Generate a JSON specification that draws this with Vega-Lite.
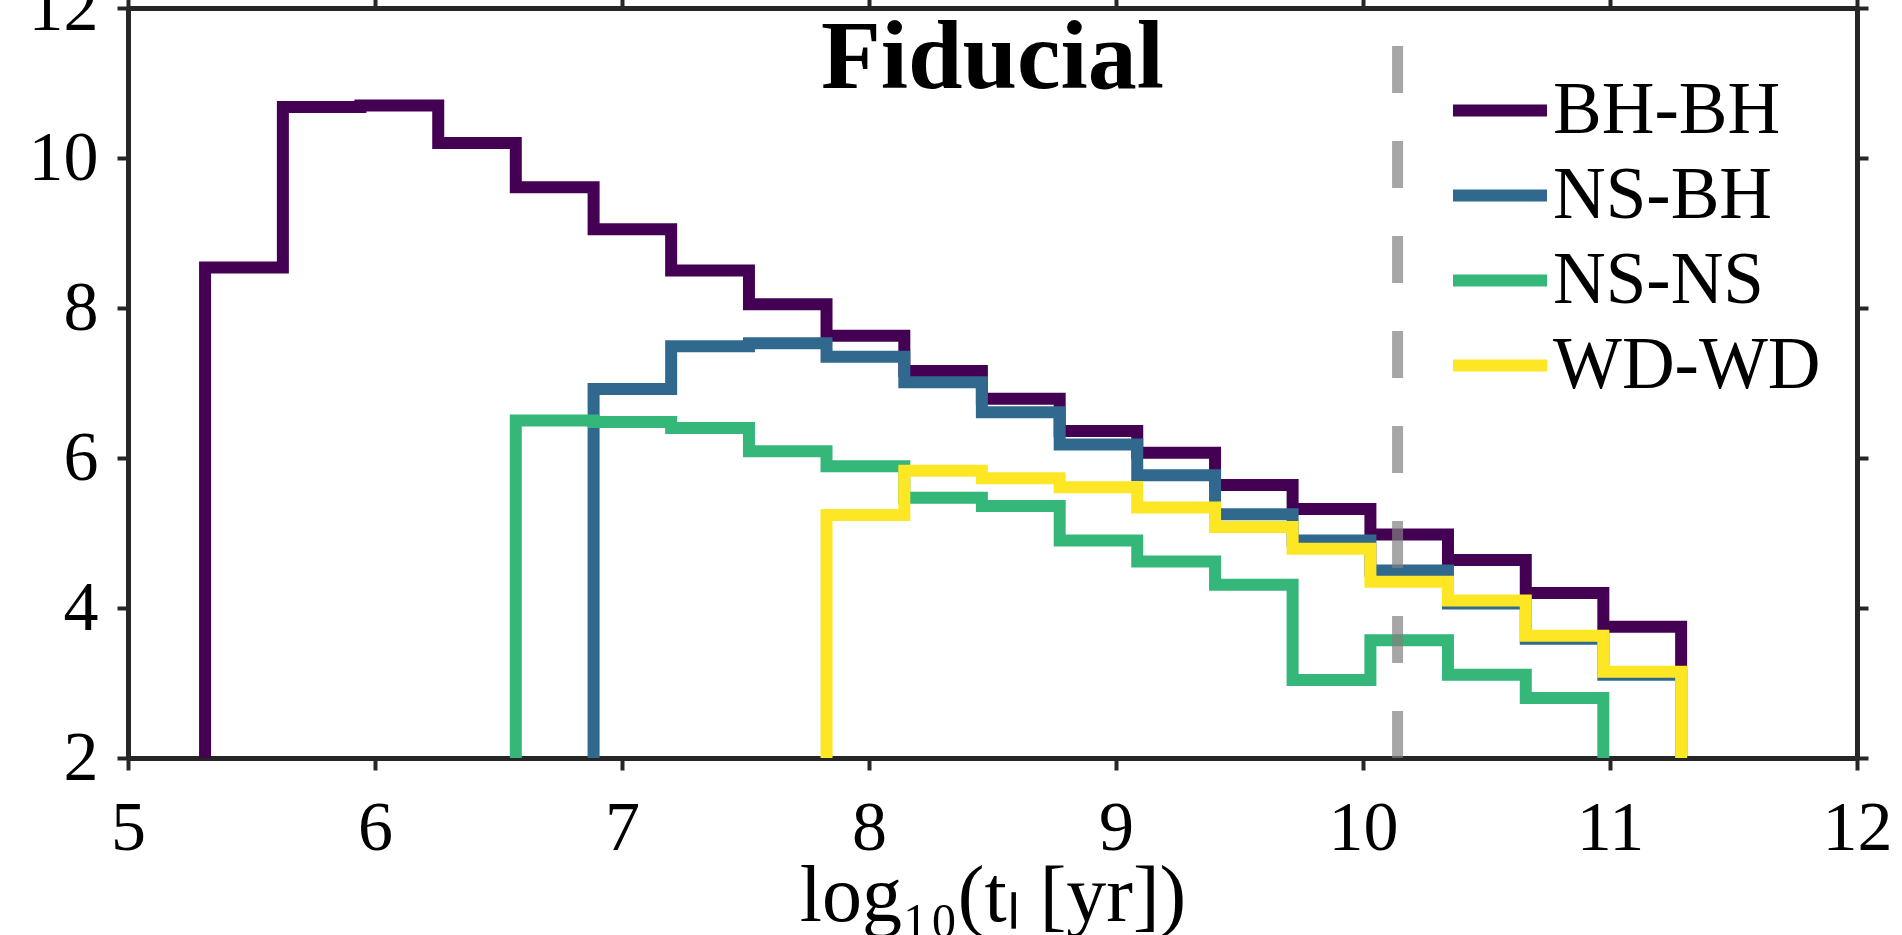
{
  "$schema": "https://vega.github.io/schema/vega-lite/v6.json",
  "width": 1729,
  "height": 750,
  "autosize": {"type": "none"},
  "padding": {"left": 128, "top": 8, "right": 45, "bottom": 177},
  "background": "white",
  "config": {
    "view": {"stroke": null},
    "font": "Liberation Serif",
    "axis": {
      "zindex": 1,
      "grid": false,
      "domainColor": "#262626",
      "domainWidth": 5,
      "tickColor": "#262626",
      "tickWidth": 4,
      "labelFont": "Liberation Serif",
      "labelFontSize": 70,
      "labelColor": "#000000",
      "titleFont": "Liberation Serif",
      "titleFontWeight": "normal",
      "titleColor": "#000000"
    }
  },
  "datasets": {
    "hist": [
      {"series": "BH-BH", "i": 0, "x": 5.312, "y": 0},
      {"series": "BH-BH", "i": 1, "x": 5.312, "y": 8.54},
      {"series": "BH-BH", "i": 2, "x": 5.627, "y": 10.68},
      {"series": "BH-BH", "i": 3, "x": 5.941, "y": 10.70},
      {"series": "BH-BH", "i": 4, "x": 6.256, "y": 10.20},
      {"series": "BH-BH", "i": 5, "x": 6.570, "y": 9.61},
      {"series": "BH-BH", "i": 6, "x": 6.885, "y": 9.05},
      {"series": "BH-BH", "i": 7, "x": 7.199, "y": 8.50},
      {"series": "BH-BH", "i": 8, "x": 7.514, "y": 8.05},
      {"series": "BH-BH", "i": 9, "x": 7.828, "y": 7.63},
      {"series": "BH-BH", "i": 10, "x": 8.143, "y": 7.16},
      {"series": "BH-BH", "i": 11, "x": 8.457, "y": 6.79},
      {"series": "BH-BH", "i": 12, "x": 8.772, "y": 6.36},
      {"series": "BH-BH", "i": 13, "x": 9.086, "y": 6.07},
      {"series": "BH-BH", "i": 14, "x": 9.401, "y": 5.64},
      {"series": "BH-BH", "i": 15, "x": 9.715, "y": 5.32},
      {"series": "BH-BH", "i": 16, "x": 10.030, "y": 4.98},
      {"series": "BH-BH", "i": 17, "x": 10.344, "y": 4.64},
      {"series": "BH-BH", "i": 18, "x": 10.659, "y": 4.20},
      {"series": "BH-BH", "i": 19, "x": 10.973, "y": 3.75},
      {"series": "BH-BH", "i": 20, "x": 11.288, "y": 3.75},
      {"series": "BH-BH", "i": 21, "x": 11.288, "y": 0},
      {"series": "NS-BH", "i": 0, "x": 6.885, "y": 0},
      {"series": "NS-BH", "i": 1, "x": 6.885, "y": 6.92},
      {"series": "NS-BH", "i": 2, "x": 7.199, "y": 7.49},
      {"series": "NS-BH", "i": 3, "x": 7.514, "y": 7.53},
      {"series": "NS-BH", "i": 4, "x": 7.828, "y": 7.35},
      {"series": "NS-BH", "i": 5, "x": 8.143, "y": 7.01},
      {"series": "NS-BH", "i": 6, "x": 8.457, "y": 6.61},
      {"series": "NS-BH", "i": 7, "x": 8.772, "y": 6.18},
      {"series": "NS-BH", "i": 8, "x": 9.086, "y": 5.77},
      {"series": "NS-BH", "i": 9, "x": 9.401, "y": 5.25},
      {"series": "NS-BH", "i": 10, "x": 9.715, "y": 4.90},
      {"series": "NS-BH", "i": 11, "x": 10.030, "y": 4.50},
      {"series": "NS-BH", "i": 12, "x": 10.344, "y": 4.06},
      {"series": "NS-BH", "i": 13, "x": 10.659, "y": 3.59},
      {"series": "NS-BH", "i": 14, "x": 10.973, "y": 3.11},
      {"series": "NS-BH", "i": 15, "x": 11.288, "y": 3.11},
      {"series": "NS-BH", "i": 16, "x": 11.288, "y": 0},
      {"series": "NS-NS", "i": 0, "x": 6.570, "y": 0},
      {"series": "NS-NS", "i": 1, "x": 6.570, "y": 6.50},
      {"series": "NS-NS", "i": 2, "x": 6.885, "y": 6.48},
      {"series": "NS-NS", "i": 3, "x": 7.199, "y": 6.40},
      {"series": "NS-NS", "i": 4, "x": 7.514, "y": 6.09},
      {"series": "NS-NS", "i": 5, "x": 7.828, "y": 5.89},
      {"series": "NS-NS", "i": 6, "x": 8.143, "y": 5.47},
      {"series": "NS-NS", "i": 7, "x": 8.457, "y": 5.36},
      {"series": "NS-NS", "i": 8, "x": 8.772, "y": 4.90},
      {"series": "NS-NS", "i": 9, "x": 9.086, "y": 4.62},
      {"series": "NS-NS", "i": 10, "x": 9.401, "y": 4.31},
      {"series": "NS-NS", "i": 11, "x": 9.715, "y": 3.04},
      {"series": "NS-NS", "i": 12, "x": 10.030, "y": 3.57},
      {"series": "NS-NS", "i": 13, "x": 10.344, "y": 3.11},
      {"series": "NS-NS", "i": 14, "x": 10.659, "y": 2.80},
      {"series": "NS-NS", "i": 15, "x": 10.973, "y": 2.80},
      {"series": "NS-NS", "i": 16, "x": 10.973, "y": 0},
      {"series": "WD-WD", "i": 0, "x": 7.828, "y": 0},
      {"series": "WD-WD", "i": 1, "x": 7.828, "y": 5.24},
      {"series": "WD-WD", "i": 2, "x": 8.143, "y": 5.83},
      {"series": "WD-WD", "i": 3, "x": 8.457, "y": 5.73},
      {"series": "WD-WD", "i": 4, "x": 8.772, "y": 5.61},
      {"series": "WD-WD", "i": 5, "x": 9.086, "y": 5.34},
      {"series": "WD-WD", "i": 6, "x": 9.401, "y": 5.08},
      {"series": "WD-WD", "i": 7, "x": 9.715, "y": 4.79},
      {"series": "WD-WD", "i": 8, "x": 10.030, "y": 4.35},
      {"series": "WD-WD", "i": 9, "x": 10.344, "y": 4.10},
      {"series": "WD-WD", "i": 10, "x": 10.659, "y": 3.63},
      {"series": "WD-WD", "i": 11, "x": 10.973, "y": 3.15},
      {"series": "WD-WD", "i": 12, "x": 11.288, "y": 3.15},
      {"series": "WD-WD", "i": 13, "x": 11.288, "y": 0}
    ],
    "ref": [{"label": "age", "t": 10.14, "lo": 2, "hi": 12}],
    "ttl": [{"name": "Fiducial", "tx": 8.5, "ty": 10.93}]
  },
  "layer": [
    {
      "data": {"name": "hist"},
      "mark": {"type": "line", "interpolate": "step-after", "strokeWidth": 12, "strokeJoin": "miter", "strokeCap": "butt", "clip": true},
      "encoding": {
        "x": {
          "field": "x", "type": "quantitative",
          "scale": {"domain": [5, 12], "nice": false, "zero": false},
          "axis": {"orient": "bottom", "values": [5, 6, 7, 8, 9, 10, 11, 12], "tickSize": 12, "labelPadding": 24, "title": "log₁₀(tₗ [yr])", "titleFontSize": 80, "titlePadding": -6, "labelFlush": false}
        },
        "y": {
          "field": "y", "type": "quantitative",
          "scale": {"domain": [2, 12], "nice": false, "zero": false},
          "axis": {"orient": "left", "values": [2, 4, 6, 8, 10, 12], "tickSize": 11, "labelPadding": 19, "title": null, "labelFlush": false}
        },
        "color": {
          "field": "series", "type": "nominal",
          "scale": {"domain": ["BH-BH", "NS-BH", "NS-NS", "WD-WD"], "range": ["#440154", "#31688e", "#35b779", "#fde725"]},
          "legend": {"orient": "none", "legendX": 1319, "legendY": 60, "title": null, "symbolType": "stroke", "symbolSize": 8836, "symbolStrokeWidth": 12, "labelFont": "Liberation Serif", "labelFontSize": 73, "labelColor": "#000000", "clipHeight": 85, "rowPadding": 0, "padding": 0, "labelOffset": 0, "labelLimit": 0}
        },
        "order": {"field": "i", "type": "quantitative"}
      }
    },
    {
      "data": {"name": "ref"},
      "mark": {"type": "rule", "color": "#808080", "opacity": 0.7, "strokeWidth": 11, "strokeDash": [47, 48], "strokeCap": "butt"},
      "encoding": {
        "x": {"field": "t", "type": "quantitative", "axis": {"orient": "top", "values": [5, 6, 7, 8, 9, 10, 11, 12], "labels": false, "tickSize": 12, "title": null}},
        "y": {"field": "lo", "type": "quantitative", "axis": {"orient": "right", "values": [2, 4, 6, 8, 10, 12], "labels": false, "tickSize": 11, "title": null}},
        "y2": {"field": "hi"}
      }
    },
    {
      "data": {"name": "ttl"},
      "mark": {"type": "text", "font": "Liberation Serif", "fontWeight": "bold", "fontSize": 98, "align": "center", "baseline": "alphabetic", "color": "#000000"},
      "encoding": {
        "x": {"field": "tx", "type": "quantitative", "axis": null},
        "y": {"field": "ty", "type": "quantitative", "axis": null},
        "text": {"field": "name"}
      }
    }
  ],
  "resolve": {"axis": {"x": "independent", "y": "independent"}}
}
